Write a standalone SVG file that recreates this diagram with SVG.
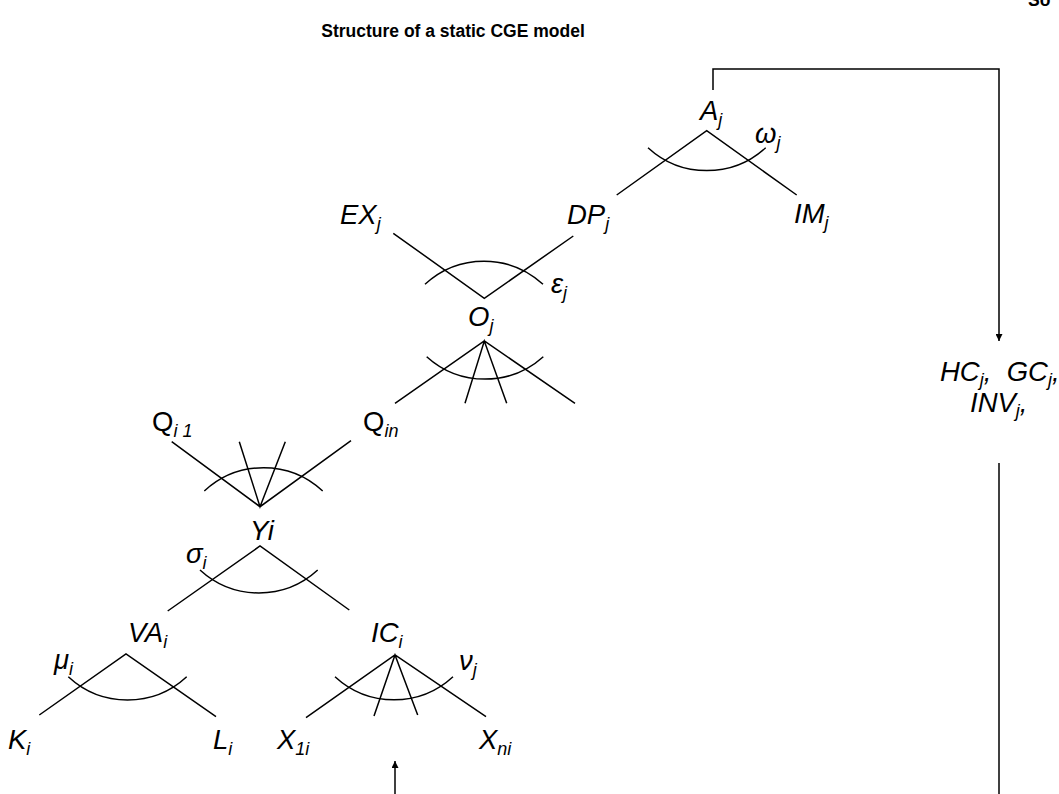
<svg xmlns="http://www.w3.org/2000/svg" width="1059" height="794" viewBox="0 0 1059 794">
<style>
  .t { font-family: "Liberation Sans", Arial, sans-serif; font-size: 27.5px; font-style: italic; fill: #000; }
  .u { font-style: normal; }
  .s { font-size: 18px; }
  .title { font-family: "Liberation Sans", Arial, sans-serif; font-size: 17.5px; font-weight: bold; fill: #000; }
  .ln { stroke: #000; stroke-width: 1.5; fill: none; stroke-linecap: butt; }
</style>
<defs>
  <marker id="ah" viewBox="0 0 10 10" refX="10" refY="5" markerWidth="7" markerHeight="7" markerUnits="userSpaceOnUse" orient="auto">
    <path d="M0,0 L10,5 L0,10 z" fill="#000"/>
  </marker>
</defs>
<rect width="1059" height="794" fill="#fff"/>
<text class="title" x="453" y="37" text-anchor="middle">Structure of a static CGE model</text>
<text class="title" x="1028" y="6">So</text>

<g id="connectors">
  <polyline class="ln" points="713,90 713,69 999,69 999,341" marker-end="url(#ah)"/>
  <line class="ln" x1="999" y1="463" x2="999" y2="794"/>
  <line class="ln" x1="395" y1="794" x2="395" y2="761" marker-end="url(#ah)"/>
</g>

<g id="node-A">
  <text class="t" x="700" y="120">A<tspan class="s" dy="6">j</tspan></text>
  <path class="ln" d="M616.7,195 L706.7,130.7 L796.7,195"/>
  <path class="ln" d="M648,147.7 A87 87 0 0 0 765.7,147.7"/>
  <text class="t" x="755" y="143">ω<tspan class="s" dy="6">j</tspan></text>
</g>
<g id="node-DP">
  <text class="t" x="567" y="224">DP<tspan class="s" dy="6">j</tspan></text>
</g>
<g id="node-IM">
  <text class="t" x="794" y="223">IM<tspan class="s" dy="6">j</tspan></text>
</g>
<g id="node-EX">
  <text class="t" x="340" y="224">EX<tspan class="s" dy="6">j</tspan></text>
</g>
<g id="node-O-top">
  <path class="ln" d="M393.3,233.3 L484.3,298.3 L573.3,236"/>
  <path class="ln" d="M425,284.3 A87 87 0 0 1 543,284.3"/>
  <text class="t" x="551" y="293">ε<tspan class="s" dy="6">j</tspan></text>
</g>
<g id="node-O">
  <text class="t" x="468" y="326">O<tspan class="s" dy="6">j</tspan></text>
  <path class="ln" d="M395,403.3 L484.3,341 L575,403.3 M465,403.3 L484.3,341 L506.7,403.3"/>
  <path class="ln" d="M426.7,356.7 A87 87 0 0 0 543.3,356.7"/>
</g>
<g id="node-Qi1">
  <text class="t" x="152" y="431"><tspan class="u">Q</tspan><tspan class="s" dy="6">i 1</tspan></text>
</g>
<g id="node-Qin">
  <text class="t" x="363" y="431"><tspan class="u">Q</tspan><tspan class="s" dy="6">in</tspan></text>
</g>
<g id="node-Y-top">
  <path class="ln" d="M171.7,441.7 L260,506.7 L351,440.7 M239.3,441.7 L260,506.7 L285.3,441.7"/>
  <path class="ln" d="M204.3,491 A87 87 0 0 1 322.7,491"/>
</g>
<g id="node-Yi">
  <text class="t" x="250" y="540">Yi</text>
  <path class="ln" d="M167.7,611 L260,546 L349.3,610"/>
  <path class="ln" d="M200,570 A87 87 0 0 0 317.7,570"/>
  <text class="t" x="186" y="563">σ<tspan class="s" dy="6">i</tspan></text>
</g>
<g id="node-VA">
  <text class="t" x="128" y="642">VA<tspan class="s" dy="6">i</tspan></text>
  <path class="ln" d="M39.3,715 L126,654 L216,716.7"/>
  <path class="ln" d="M68.3,676.7 A87 87 0 0 0 186.7,676.7"/>
  <text class="t" x="54" y="669">μ<tspan class="s" dy="6">i</tspan></text>
</g>
<g id="node-IC">
  <text class="t" x="371" y="642">IC<tspan class="s" dy="6">i</tspan></text>
  <path class="ln" d="M306,717.7 L395,655 L486,716.7 M374,716 L395,655 L417.7,715"/>
  <path class="ln" d="M335,676.7 A87 87 0 0 0 453,676.7"/>
  <text class="t" x="459" y="670">ν<tspan class="s" dy="6">j</tspan></text>
</g>
<g id="node-K">
  <text class="t" x="8" y="749">K<tspan class="s" dy="6">i</tspan></text>
</g>
<g id="node-L">
  <text class="t" x="213" y="749">L<tspan class="s" dy="6">i</tspan></text>
</g>
<g id="node-X1">
  <text class="t" x="277" y="749">X<tspan class="s" dy="6">1i</tspan></text>
</g>
<g id="node-Xn">
  <text class="t" x="479" y="749">X<tspan class="s" dy="6">ni</tspan></text>
</g>
<g id="node-final">
  <text class="t" x="940" y="381" xml:space="preserve">HC<tspan class="s" dy="5">j</tspan><tspan dy="-5">,  GC</tspan><tspan class="s" dy="5">j</tspan><tspan dy="-5">,</tspan></text>
  <text class="t" x="970" y="412">INV<tspan class="s" dy="5">j</tspan><tspan dy="-5">,</tspan></text>
</g>
</svg>
